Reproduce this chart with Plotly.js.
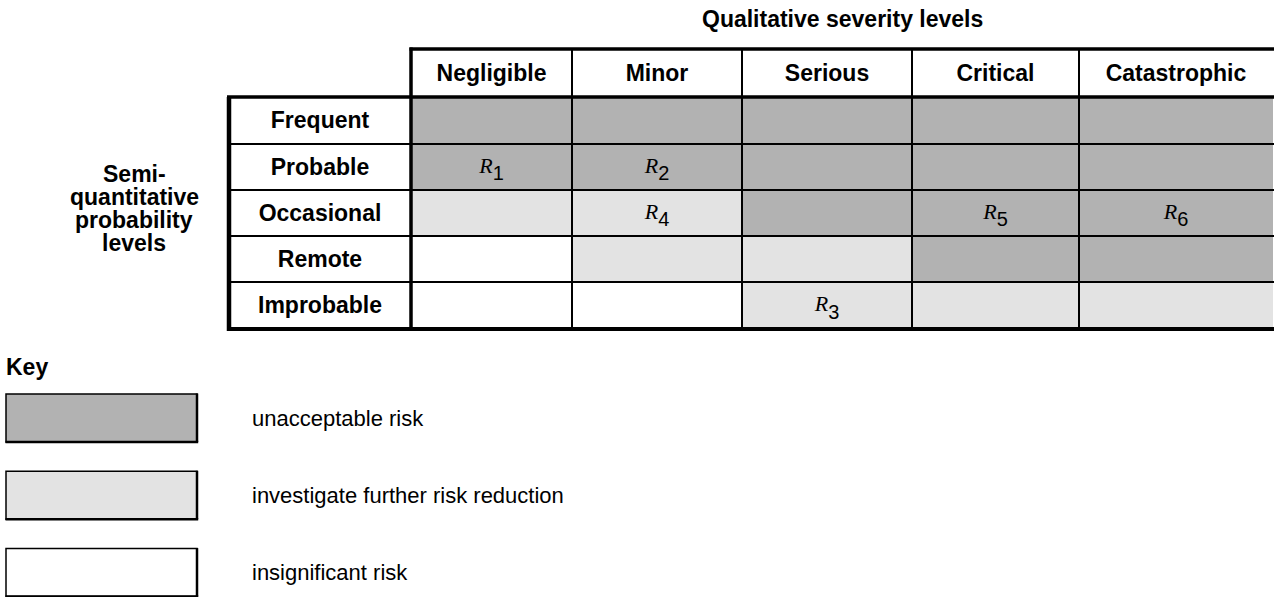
<!DOCTYPE html>
<html>
<head>
<meta charset="utf-8">
<script src="https://cdn.plot.ly/plotly-3.0.1.min.js"></script>
<style>
  html, body { margin: 0; padding: 0; background: #ffffff; }
  #chart { width: 1274px; height: 597px; }
</style>
</head>
<body>
<div id="chart"></div>
<script>
// ================= DATA =================
const severityLevels = ['Negligible', 'Minor', 'Serious', 'Critical', 'Catastrophic'];
const probabilityLevels = ['Frequent', 'Probable', 'Occasional', 'Remote', 'Improbable'];
// risk class of each cell: 2 = unacceptable, 1 = investigate further, 0 = insignificant
const riskFrequent   = [2, 2, 2, 2, 2];
const riskProbable   = [2, 2, 2, 2, 2];
const riskOccasional = [1, 1, 2, 2, 2];
const riskRemote     = [0, 1, 1, 2, 2];
const riskImprobable = [0, 0, 1, 1, 1];
// individual risks placed in the matrix
const riskIds = ['1', '2', '3', '4', '5', '6'];
const riskSeverity = ['Negligible', 'Minor', 'Serious', 'Minor', 'Critical', 'Catastrophic'];
const riskProbability = ['Probable', 'Probable', 'Improbable', 'Occasional', 'Occasional', 'Occasional'];
// key
const keyClasses = [2, 1, 0];
const keyLabels = ['unacceptable risk', 'investigate further risk reduction', 'insignificant risk'];
// titles
const severityTitle = 'Qualitative severity levels';
const probabilityTitleLines = ['Semi-', 'quantitative', 'probability', 'levels'];
const keyTitle = 'Key';

// ================= LAYOUT / STYLE CONSTANTS (pixels) =================
const W = 1274, H = 597;
const LABEL_X0 = 229;            // left edge of row-label column
const TABLE_X0 = 411;            // left edge of first severity column
const COL_W = [161, 170, 170, 167, 194];
const HEAD_Y0 = 49, HEAD_Y1 = 97;
const ROW_H = [47, 46, 46, 46, 47];
const CLASS_COLORS = ['#ffffff', '#e3e3e3', '#b2b2b2'];
const FONT = 'Liberation Sans, Arial, sans-serif';
const SERIF = 'Liberation Serif, Times New Roman, serif';
const KEY_X0 = 6, KEY_X1 = 197, KEY_Y0 = 394, KEY_H = 48, KEY_STEP = 77.3;
const KEY_TEXT_X = 250;
const TEXT_DY = 2;               // small downward nudge of cell captions

// ---- derived edges/centres ----
const xEdges = [TABLE_X0];
COL_W.forEach(w => xEdges.push(xEdges[xEdges.length - 1] + w));
const yEdges = [HEAD_Y1];
ROW_H.forEach(h => yEdges.push(yEdges[yEdges.length - 1] + h));
const colCenter = severityLevels.map((_, i) => (xEdges[i] + xEdges[i + 1]) / 2);
const rowCenter = probabilityLevels.map((_, i) => (yEdges[i] + yEdges[i + 1]) / 2);
const TABLE_X1 = xEdges[xEdges.length - 1];
const TABLE_Y1 = yEdges[yEdges.length - 1];

const zMatrix = [riskFrequent, riskProbable, riskOccasional, riskRemote, riskImprobable];

// ================= TRACES =================
const cells = {
  type: 'heatmap',
  x: xEdges,
  y: yEdges,
  z: zMatrix,
  zmin: 0, zmax: 2,
  colorscale: [[0, CLASS_COLORS[0]], [0.5, CLASS_COLORS[1]], [1, CLASS_COLORS[2]]],
  showscale: false,
  hoverinfo: 'skip',
  xgap: 0, ygap: 0
};

const headerText = {
  type: 'scatter', mode: 'text',
  x: colCenter,
  y: severityLevels.map(() => (HEAD_Y0 + HEAD_Y1) / 2 + TEXT_DY),
  text: severityLevels,
  texttemplate: '<b>%{text}</b>',
  textposition: 'middle center',
  textfont: { family: FONT, size: 23, color: '#000000' },
  hoverinfo: 'skip', showlegend: false, cliponaxis: false
};

const rowText = {
  type: 'scatter', mode: 'text',
  x: probabilityLevels.map(() => (LABEL_X0 + TABLE_X0) / 2),
  y: rowCenter.map(c => c + TEXT_DY),
  text: probabilityLevels,
  texttemplate: '<b>%{text}</b>',
  textposition: 'middle center',
  textfont: { family: FONT, size: 23, color: '#000000' },
  hoverinfo: 'skip', showlegend: false, cliponaxis: false
};

const riskText = {
  type: 'scatter', mode: 'text',
  x: riskSeverity.map(s => colCenter[severityLevels.indexOf(s)]),
  y: riskProbability.map(p => rowCenter[probabilityLevels.indexOf(p)]),
  text: riskIds.map(id => '<i>R</i><sub><sub><span style="font-family:Liberation Sans;font-size:20px">' + id + '</span></sub></sub>'),
  textposition: 'middle center',
  textfont: { family: SERIF, size: 22, color: '#000000' },
  hoverinfo: 'skip', showlegend: false, cliponaxis: false
};

// ================= SHAPES =================
const shapes = [];
function hLine(x0, x1, y, w) {
  shapes.push({ type: 'line', xref: 'x', yref: 'y', x0: x0, x1: x1, y0: y, y1: y, line: { color: '#000', width: w }, layer: 'above' });
}
function vLine(x, y0, y1, w) {
  shapes.push({ type: 'line', xref: 'x', yref: 'y', x0: x, x1: x, y0: y0, y1: y1, line: { color: '#000', width: w }, layer: 'above' });
}
// header row top
hLine(TABLE_X0 - 1.5, W + 5, HEAD_Y0, 3.5);
// header bottom / label box top
hLine(LABEL_X0 - 2, W + 5, HEAD_Y1, 3.5);
// row dividers
for (let i = 1; i < yEdges.length - 1; i++) hLine(LABEL_X0, W + 5, yEdges[i], 2);
// bottom
hLine(LABEL_X0 - 2, W + 5, TABLE_Y1, 4);
// label column left
vLine(LABEL_X0, HEAD_Y1, TABLE_Y1 + 2, 4.5);
// label column right
vLine(TABLE_X0, HEAD_Y0 - 1.5, TABLE_Y1, 3.5);
// column dividers
for (let i = 1; i < xEdges.length - 1; i++) vLine(xEdges[i], HEAD_Y0, TABLE_Y1, 2);

// key boxes
keyClasses.forEach((c, i) => {
  const y0 = KEY_Y0 + i * KEY_STEP, y1 = y0 + KEY_H;
  shapes.push({ type: 'rect', xref: 'x', yref: 'y', x0: KEY_X0, x1: KEY_X1, y0: y0, y1: y1,
    fillcolor: CLASS_COLORS[c], line: { color: '#000', width: 1.5 }, layer: 'above' });
  hLine(KEY_X0 - 0.5, KEY_X1 + 1.2, y1, 2.5);
  vLine(KEY_X1, y0 - 0.5, y1, 2.5);
});

// ================= ANNOTATIONS =================
const annotations = [];
annotations.push({ xref: 'x', yref: 'y', x: (TABLE_X0 + TABLE_X1) / 2, y: 19, text: '<b>' + severityTitle + '</b>',
  showarrow: false, xanchor: 'center', yanchor: 'middle', font: { family: FONT, size: 23, color: '#000' } });
probabilityTitleLines.forEach((t, i) => {
  annotations.push({ xref: 'x', yref: 'y', x: 134, y: 174 + i * 23, text: '<b>' + t + '</b>',
    showarrow: false, xanchor: 'center', yanchor: 'middle', font: { family: FONT, size: 23, color: '#000' } });
});
annotations.push({ xref: 'x', yref: 'y', x: 4, y: 367, text: '<b>' + keyTitle + '</b>',
  showarrow: false, xanchor: 'left', yanchor: 'middle', font: { family: FONT, size: 23, color: '#000' } });
keyLabels.forEach((t, i) => {
  annotations.push({ xref: 'x', yref: 'y', x: KEY_TEXT_X, y: KEY_Y0 + i * KEY_STEP + KEY_H / 2, text: t,
    showarrow: false, xanchor: 'left', yanchor: 'middle', font: { family: FONT, size: 22, color: '#000' } });
});

const layout = {
  width: W, height: H,
  margin: { l: 0, r: 0, t: 0, b: 0, pad: 0 },
  paper_bgcolor: '#ffffff', plot_bgcolor: '#ffffff',
  xaxis: { range: [0, W], visible: false, fixedrange: true, showgrid: false, zeroline: false },
  yaxis: { range: [H, 0], visible: false, fixedrange: true, showgrid: false, zeroline: false },
  showlegend: false,
  shapes: shapes,
  annotations: annotations
};

Plotly.newPlot('chart', [cells, headerText, rowText, riskText], layout, { staticPlot: true, displayModeBar: false });
</script>
</body>
</html>
